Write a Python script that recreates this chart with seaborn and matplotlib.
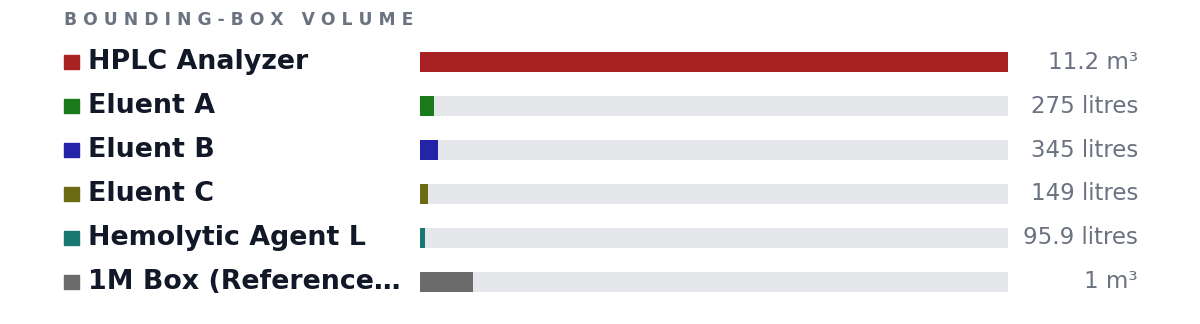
import pandas as pd
import matplotlib.pyplot as plt
import seaborn as sns
from matplotlib.patches import Rectangle
from matplotlib.transforms import blended_transform_factory

names = ['HPLC Analyzer', 'Eluent A', 'Eluent B', 'Eluent C', 'Hemolytic Agent L', '1M Box (Reference…']
volumes = [11.2, 0.275, 0.345, 0.149, 0.0959, 1.0]  # m3
value_labels = ['11.2 m³', '275 litres', '345 litres', '149 litres', '95.9 litres', '1 m³']
colors = ['#a82224', '#1a7a1a', '#2424a8', '#6b6b14', '#177872', '#6b6b6b']

df = pd.DataFrame({'name': names, 'volume': volumes})
df['track'] = max(volumes)

sns.set_style('white')
plt.rcParams['font.family'] = ['DejaVu Sans']

fig = plt.figure(figsize=(12, 3.24), dpi=100)
ax = fig.add_axes([420 / 1200, 20 / 324, 588 / 1200, 264 / 324])

sns.barplot(data=df, y='name', x='track', color='#e5e7eb', width=0.44,
            saturation=1, linewidth=0, ax=ax)
sns.barplot(data=df, y='name', x='volume', hue='name', palette=colors,
            width=0.44, saturation=1, linewidth=0, legend=False, ax=ax)

ax.set_xlim(0, max(volumes))
ax.set_ylim(len(names) - 0.5, -0.5)
ax.axis('off')

trans = blended_transform_factory(fig.transFigure, ax.transData)
for i, (n, c, lab) in enumerate(zip(names, colors, value_labels)):
    ax.add_patch(Rectangle((64 / 1200, i - 0.17), 15 / 1200, 0.34, color=c,
                           transform=trans, clip_on=False))
    ax.text(88 / 1200, i, n, transform=trans, fontsize=19.4, fontweight='bold',
            color='#111827', va='center', ha='left')
    ax.text(1138 / 1200, i, lab, transform=trans, fontsize=16.5,
            color='#6b7280', va='center', ha='right')

fig.text(64 / 1200, 1 - 20 / 324, 'B O U N D I N G - B O X   V O L U M E',
         fontsize=12.3, fontweight='bold', color='#6b7280', va='center', ha='left')

fig.savefig('out.png', dpi=100)
